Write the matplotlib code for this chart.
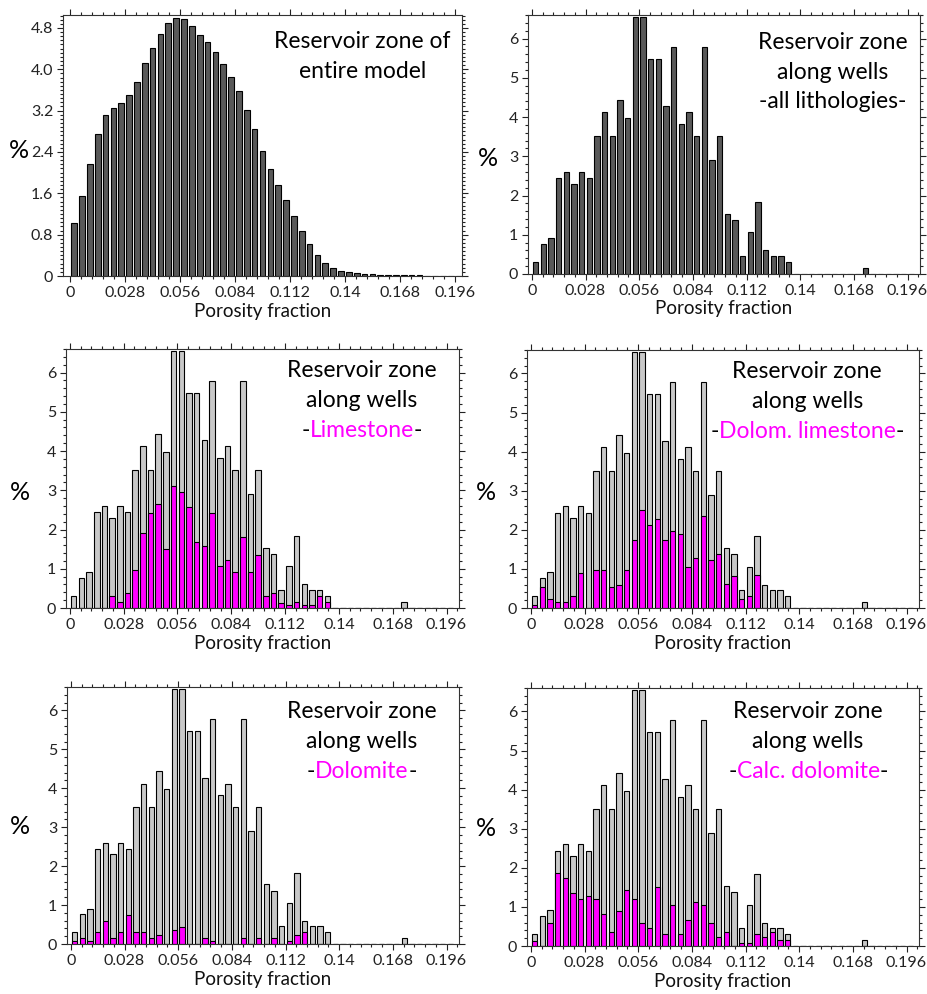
import numpy as np
import matplotlib.pyplot as plt
from matplotlib.ticker import MultipleLocator, FuncFormatter

plt.rcParams['font.family'] = ['Lato', 'DejaVu Sans']

# porosity bins (0.004 wide, 0 - 0.2)
bin_width = 0.004
porosity = np.arange(50) * bin_width + bin_width / 2

# % of cells, whole reservoir model
entire_model = [1.03, 1.55, 2.16, 2.74, 3.12, 3.26, 3.34, 3.50, 3.76, 4.12,
                4.41, 4.69, 4.90, 5.00, 4.97, 4.83, 4.66, 4.52, 4.34, 4.11,
                3.85, 3.57, 3.22, 2.84, 2.42, 2.07, 1.77, 1.48, 1.16, 0.88,
                0.62, 0.41, 0.25, 0.15, 0.09, 0.07, 0.05, 0.04, 0.03, 0.025,
                0.02, 0.018, 0.015, 0.012, 0.01, 0.008, 0.007, 0.006, 0.005, 0.004]

# % of samples along wells, all lithologies
all_wells = [0.30, 0.76, 0.91, 2.44, 2.60, 2.30, 2.60, 2.44, 3.51, 4.12,
             3.51, 4.43, 3.97, 6.55, 6.55, 5.48, 5.48, 4.27, 5.79, 3.82,
             4.12, 3.51, 5.79, 2.90, 3.51, 1.53, 1.37, 0.45, 1.06, 1.83,
             0.60, 0.45, 0.45, 0.30, 0, 0, 0, 0, 0, 0,
             0, 0, 0, 0.15, 0, 0, 0, 0, 0, 0]

pad = [0] * 16
limestone = [0, 0, 0, 0, 0, 0.30, 0.15, 0.37, 0.98, 1.90,
             2.43, 2.66, 1.51, 3.11, 2.96, 2.58, 1.67, 1.59, 2.43, 1.06,
             1.22, 0.91, 1.82, 0.91, 1.36, 0.30, 0.37, 0.14, 0.07, 0.15,
             0.07, 0.07, 0.30, 0.15] + pad
dolom_limestone = [0.07, 0.53, 0.22, 0.15, 0.15, 0.30, 0.90, 0, 0.98, 0.98,
                   0.53, 0.60, 0.98, 1.75, 2.50, 2.13, 2.28, 1.75, 1.98, 1.90,
                   1.05, 1.29, 2.36, 1.22, 1.37, 0.61, 0.82, 0.22, 0.30, 0.84,
                   0, 0, 0, 0] + pad
dolomite = [0.07, 0.15, 0.07, 0.30, 0.60, 0.15, 0.30, 0.75, 0.30, 0.30,
            0.15, 0.22, 0, 0.37, 0.44, 0, 0, 0.15, 0.07, 0,
            0, 0, 0.15, 0, 0.15, 0, 0.15, 0, 0.07, 0.22,
            0.30, 0, 0, 0] + pad
calc_dolomite = [0.14, 0, 0.60, 1.88, 1.74, 1.35, 1.21, 1.28, 1.21, 0.83,
                 0.37, 0.90, 1.43, 1.21, 0.60, 0.45, 1.51, 0.30, 1.05, 0.30,
                 0.67, 1.13, 1.05, 0.60, 0.22, 0.37, 0, 0.07, 0.07, 0.30,
                 0.22, 0.37, 0.15, 0.15] + pad

W, H = 928, 994
fig = plt.figure(figsize=(W / 100, H / 100), dpi=100)


def px_axes(l, t, r, b):
    return fig.add_axes([l / W, 1 - b / H, (r - l) / W, (b - t) / H])


def style(ax, xlim, ylim, ymajor, yminor, yfmt):
    ax.set_xlim(*xlim)
    ax.set_ylim(*ylim)
    ax.xaxis.set_major_locator(MultipleLocator(0.028))
    ax.xaxis.set_minor_locator(MultipleLocator(0.0056))
    ax.xaxis.set_major_formatter(FuncFormatter(lambda v, p: '{:g}'.format(round(v, 3))))
    ax.yaxis.set_major_locator(MultipleLocator(ymajor))
    ax.yaxis.set_minor_locator(MultipleLocator(yminor))
    ax.yaxis.set_major_formatter(FuncFormatter(yfmt))
    ax.tick_params(which='both', direction='out', top=True, right=True,
                   labelsize=11.5, colors='#222222', width=0.8)
    ax.tick_params(which='major', length=4, pad=3)
    ax.tick_params(which='minor', length=2)
    for s in ax.spines.values():
        s.set_linewidth(0.8)
        s.set_color('#333333')
    ax.set_xlabel('Porosity fraction', fontsize=13.5, labelpad=2, color='#111111')


def label(ax, x, ys, lines, litho=None):
    fs = 16.5
    for y, txt in zip(ys, lines):
        ax.text(x, y, txt, transform=ax.transAxes, ha='center', va='baseline', fontsize=fs)
    if litho:
        w = ax.text(x, ys[-1] - (ys[0] - ys[1]), litho, transform=ax.transAxes,
                    ha='center', va='baseline', fontsize=fs, color='#ff00ff')
        ax.annotate('-', xy=(0, 0), xycoords=w, ha='right', va='bottom', fontsize=fs)
        ax.annotate('-', xy=(1, 0), xycoords=w, ha='left', va='bottom', fontsize=fs)


def pct(x, y):
    fig.text(x / W, 1 - y / H, '%', fontsize=18, ha='center', va='center')


fmt_dec = lambda v, p: '0' if abs(v) < 1e-9 else '{:.1f}'.format(v)
fmt_int = lambda v, p: '{:d}'.format(int(round(v)))
bw = 0.0029

# top left: entire model
ax = px_axes(63, 15, 462, 276)
ax.bar(porosity, entire_model, width=bw, color='#595959', edgecolor='black', linewidth=0.8)
style(ax, (-0.0037, 0.1997), (0, 5.05), 0.8, 0.08, fmt_dec)
label(ax, 0.75, [0.874, 0.759], ['Reservoir zone of', 'entire model'])
pct(19, 151)

# top right: all lithologies along wells
ax = px_axes(528, 15, 920, 274)
ax.bar(porosity, all_wells, width=bw, color='#595959', edgecolor='black', linewidth=0.8)
style(ax, (-0.002, 0.2025), (0, 6.6), 1, 0.2, fmt_int)
label(ax, 0.778, [0.869, 0.753, 0.641], ['Reservoir zone', 'along wells', '-all lithologies-'])
pct(488, 158)

panels = [
    ((66, 349, 459, 608), limestone, 'Limestone', 0.753, [0.892, 0.776], (20, 492)),
    ((527, 350, 919, 608), dolom_limestone, 'Dolom. limestone', 0.715, [0.892, 0.776], (486, 492)),
    ((67, 687, 459, 944), dolomite, 'Dolomite', 0.752, [0.879, 0.763], (20, 827)),
    ((527, 688, 919, 946), calc_dolomite, 'Calc. dolomite', 0.717, [0.884, 0.767], (486, 829)),
]
for box, litho, name, tx, tys, pxy in panels:
    ax = px_axes(*box)
    ax.bar(porosity, all_wells, width=bw, color='#c8c8c8', edgecolor='black', linewidth=0.8)
    ax.bar(porosity, litho, width=bw, color='#ff00ff', edgecolor='black', linewidth=0.8)
    style(ax, (-0.002, 0.2025), (0, 6.6), 1, 0.2, fmt_int)
    label(ax, tx, tys, ['Reservoir zone', 'along wells'], litho=name)
    pct(*pxy)

fig.savefig('out.png', dpi=100)
